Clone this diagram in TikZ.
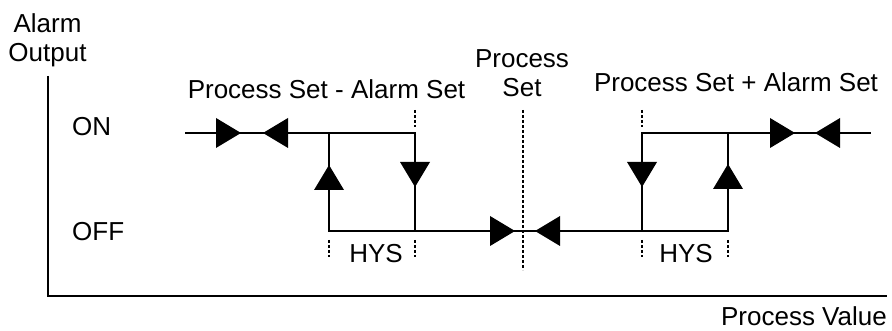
\documentclass[tikz,border=0pt]{standalone}
\usepackage{fontspec}
\setmainfont{Liberation Sans}
\tikzset{
  lbl/.style={inner sep=0pt, font=\fontsize{26}{29}\selectfont},
  wire/.style={line width=2pt, line cap=rect},
  axis/.style={line width=2.5pt},
  guide/.style={line width=1.4pt, dash pattern=on 3pt off 2pt},
  tri/.pic={\fill (0,0) -- (-25,15) -- (-25,-15) -- cycle;}
}
\begin{document}
\begin{tikzpicture}[x=1pt,y=-1pt]
\useasboundingbox (0,0) rectangle (892,331);
% axes
\coordinate (ytop) at (48,76);
\coordinate (orig) at (48,296);
\coordinate (xend) at (887,296);
\draw[axis] (ytop) -- (orig) -- (xend);
% labels
\node[lbl, anchor=base] (alarm) at (47.5,33) {Alarm};
\node[lbl, anchor=base] (output) at (47.5,62) {Output};
\node[lbl, anchor=base west] (on) at (72,136) {ON};
\node[lbl, anchor=base west] (off) at (72,241) {OFF};
\node[lbl, anchor=base] (psmas) at (326.5,99) {Process Set - Alarm Set};
\node[lbl, anchor=base] (ps1) at (522,68) {Process};
\node[lbl, anchor=base] (ps2) at (522,97) {Set};
\node[lbl, anchor=base] (pspas) at (736,92) {Process Set + Alarm Set};
\node[lbl, anchor=base] (hys1) at (376,262) {HYS};
\node[lbl, anchor=base] (hys2) at (686,262) {HYS};
\node[lbl, anchor=base east] (pv) at (887,325) {Process Value};
% key points
\coordinate (l0) at (186,133);
\coordinate (l1) at (329,133);
\coordinate (l2) at (415,133);
\coordinate (l3) at (329,231);
\coordinate (l4) at (415,231);
\coordinate (r1) at (642,133);
\coordinate (r2) at (728,133);
\coordinate (r3) at (642,231);
\coordinate (r4) at (728,231);
\coordinate (r0) at (870,133);
% wires
\draw[wire] (l0) -- (l2) -- (l4);
\draw[wire] (l1) -- (l3) -- (r4) -- (r2);
\draw[wire] (r3) -- (r1) -- (r0);
% guides
\draw[guide] (415,110) -- (415,127);
\draw[guide] (642,110) -- (642,127);
\draw[guide] (523,110) -- (523,270);
\draw[guide] (329,240) -- (329,257);
\draw[guide] (415,240) -- (415,257);
\draw[guide] (642,240) -- (642,257);
\draw[guide] (728,240) -- (728,257);
% arrowheads
\pic at (241,133) {tri};
\pic[rotate=180] at (263,133) {tri};
\pic[rotate=90] at (329,165) {tri};
\pic[rotate=-90] at (415,187) {tri};
\pic at (515,231) {tri};
\pic[rotate=180] at (535,231) {tri};
\pic[rotate=-90] at (642,187) {tri};
\pic[rotate=90] at (728,164) {tri};
\pic at (795,133) {tri};
\pic[rotate=180] at (815,133) {tri};
\end{tikzpicture}
\end{document}
